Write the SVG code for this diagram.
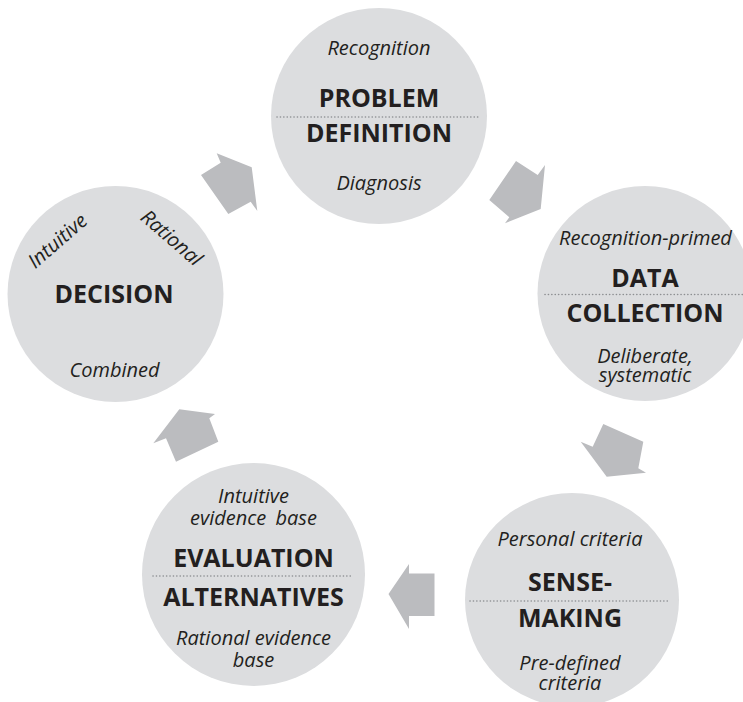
<svg xmlns="http://www.w3.org/2000/svg" width="743" height="702" viewBox="0 0 743 702">
<style>
.bg{fill:#ffffff}
.c{fill:#dcdddf}
.a{fill:#bbbcbf}
.t{font-family:"Open Sans","Noto Sans","Liberation Sans",sans-serif;font-weight:bold;font-size:25px;fill:#231f20;text-anchor:middle}
.i{font-family:"Open Sans","Noto Sans","Liberation Sans",sans-serif;font-style:italic;font-size:20px;fill:#231f20;text-anchor:middle}
.d{stroke:#8d8f92;stroke-width:1.6;stroke-dasharray:0.1 3.3;stroke-linecap:round;fill:none}
</style>
<rect class="bg" x="0" y="0" width="743" height="702"/>
<g id="connectors">
<polygon class="a" points="516,161 537.7,175 545,165 540.7,209 505,223.3 509.3,217.3 489.3,200"/>
<polygon class="a" points="603.3,424 643.3,441.7 638.3,468.3 646,472.7 606.7,476.7 580.7,441.7 592.7,446.7"/>
<polygon class="a" points="388.5,594 409,564 409,573.5 434.5,573.5 434.5,616 409,616 409,629"/>
<polygon class="a" points="179.3,409.3 215,414 209.3,418.3 218.3,441.7 176,461.7 166,438.3 153.3,443.3"/>
<polygon class="a" points="216.7,153.3 251.7,167.3 257.3,211 250.7,201.7 228.3,214 201,175 220.7,162.7"/>
</g>
<g id="problem-definition">
<circle class="c" cx="379" cy="116" r="108"/>
<text class="i" x="379" y="55">Recognition</text>
<text class="t" x="379" y="107">PROBLEM</text>
<line class="d" x1="277" y1="117" x2="479" y2="117"/>
<text class="t" x="379" y="142">DEFINITION</text>
<text class="i" x="379" y="190">Diagnosis</text>
</g>
<g id="data-collection">
<circle class="c" cx="645" cy="293.5" r="107.5"/>
<text class="i" x="645.5" y="245">Recognition-primed</text>
<text class="t" x="645" y="287">DATA</text>
<line class="d" x1="545" y1="294.5" x2="743" y2="294.5"/>
<text class="t" x="645" y="322">COLLECTION</text>
<text class="i"><tspan x="645" y="363">Deliberate,</tspan><tspan x="645" y="382">systematic</tspan></text>
</g>
<g id="sense-making">
<circle class="c" cx="572" cy="600" r="107"/>
<text class="i" x="570" y="546">Personal criteria</text>
<text class="t" x="570" y="591">SENSE-</text>
<line class="d" x1="470" y1="601" x2="670" y2="601"/>
<text class="t" x="570" y="627">MAKING</text>
<text class="i"><tspan x="570" y="670">Pre-defined</tspan><tspan x="570" y="690">criteria</tspan></text>
</g>
<g id="evaluation-alternatives">
<circle class="c" cx="253.5" cy="574.5" r="111.5"/>
<text class="i"><tspan x="253.5" y="503">Intuitive</tspan><tspan x="253.5" y="525" word-spacing="4">evidence base</tspan></text>
<text class="t" x="253.5" y="567">EVALUATION</text>
<line class="d" x1="153" y1="576" x2="353" y2="576"/>
<text class="t" x="253.5" y="606">ALTERNATIVES</text>
<text class="i"><tspan x="253.5" y="645">Rational evidence</tspan><tspan x="253.5" y="667">base</tspan></text>
</g>
<g id="decision">
<circle class="c" cx="115.5" cy="294" r="108"/>
<text class="i" transform="translate(62,246) rotate(-41)" x="0" y="0">Intuitive</text>
<text class="i" transform="translate(167,243) rotate(41)" x="0" y="0">Rational</text>
<text class="t" x="114" y="303">DECISION</text>
<text class="i" x="114.5" y="377">Combined</text>
</g>
</svg>
